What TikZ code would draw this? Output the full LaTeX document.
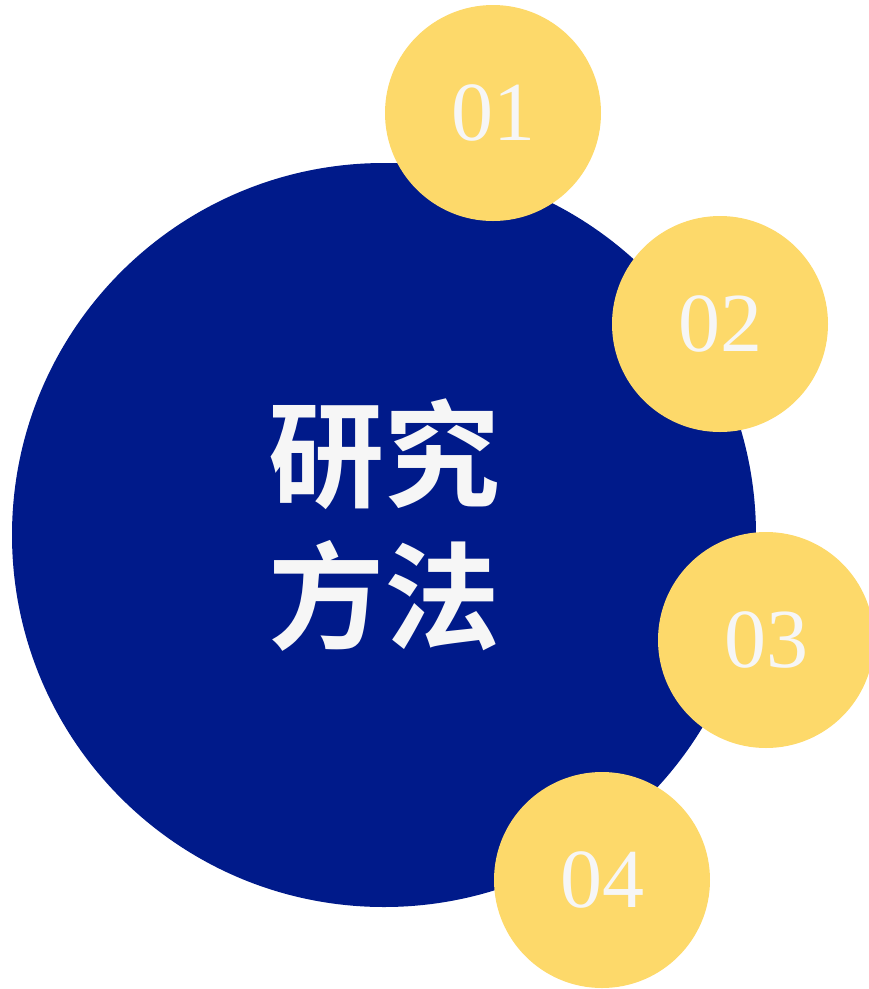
\documentclass[tikz,border=0pt]{standalone}
\usepackage{fontspec}
\setmainfont{Liberation Serif}
\newfontfamily\cjk{Noto Sans CJK SC Bold}
\definecolor{bigblue}{HTML}{001A8A}
\definecolor{sun}{HTML}{FDD96A}
\definecolor{txt}{HTML}{F6F6F6}
\begin{document}
\begin{tikzpicture}[x=1pt,y=-1pt,
  numcirc/.style={circle,fill=sun,minimum size=216pt,inner sep=0pt,text=txt,font=\fontsize{84}{84}\selectfont}]
\useasboundingbox (0,0) rectangle (869,989);
\node[circle,fill=bigblue,minimum size=744pt,inner sep=0pt] (main) at (384,535) {};
\node[text=txt,font=\cjk\fontsize{116}{142}\selectfont,align=center] (title) at (384,525) {研究\\方法};
\node[numcirc] (n1) at (493,113) {01};
\node[numcirc] (n2) at (720,324) {02};
\node[numcirc] (n3) at (766,640) {03};
\node[numcirc] (n4) at (602,880) {04};
\end{tikzpicture}
\end{document}
